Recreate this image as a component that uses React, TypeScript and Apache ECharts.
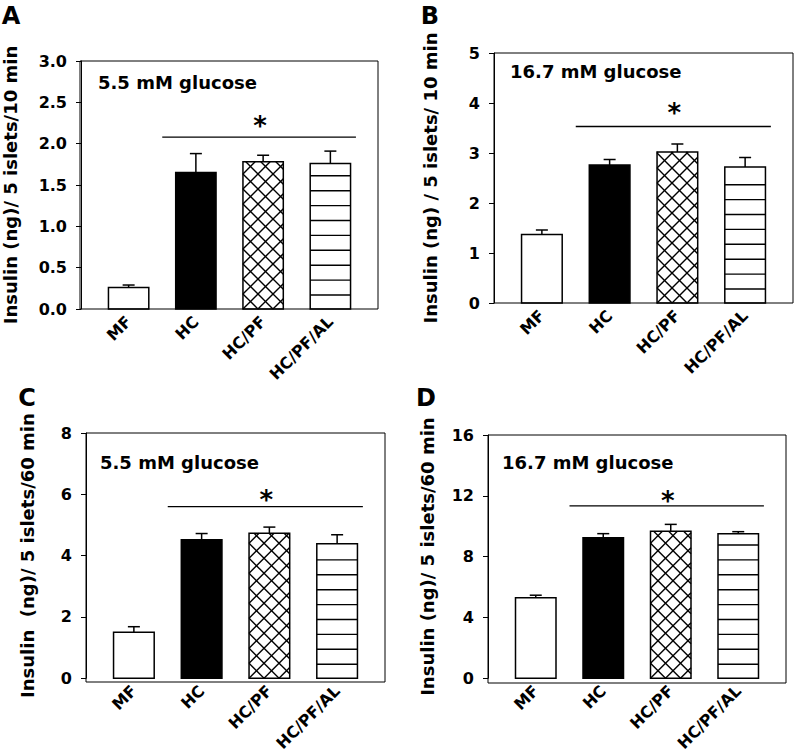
import React, { useEffect, useRef } from "react";
import * as echarts from "echarts";

// ---------- data ----------
const categories = ["MF", "HC", "HC/PF", "HC/PF/AL"];

const meanA = [0.26, 1.65, 1.78, 1.76];
const errA = [0.03, 0.23, 0.08, 0.15];
const meanB = [1.37, 2.76, 3.02, 2.72];
const errB = [0.09, 0.11, 0.16, 0.19];
const meanC = [1.5, 4.52, 4.73, 4.39];
const errC = [0.18, 0.2, 0.2, 0.29];
const meanD = [5.3, 9.24, 9.66, 9.51];
const errD = [0.16, 0.27, 0.46, 0.13];

const sigLevel = [2.08, 3.53, 5.6, 11.34];
const starLevel = [2.28, 3.9, 5.98, 11.98];

const yMaxes = [3, 5, 8, 16];
const yIntervals = [0.5, 1, 2, 4];
const yDecimals = [1, 0, 0, 0];

const panelLetters = ["A", "B", "C", "D"];
const panelTitles = ["5.5 mM glucose", "16.7 mM glucose", "5.5 mM glucose", "16.7 mM glucose"];
const yNames = [
  "Insulin (ng)/ 5 islets/10 min",
  "Insulin (ng) / 5 islets/ 10 min",
  "Insulin  (ng)/ 5 islets/60 min",
  "Insulin (ng)/ 5 islets/60 min",
];
const fills = ["white", "black", "cross", "hlines"];

// ---------- layout ----------
const W = 794;
const H = 754;
const FONT = "DejaVu Sans";
const INSET = 14;
// [left, top, right, bottom] of each plot box
const boxes = [
  [80, 61, 378, 309],
  [494, 53, 793, 303],
  [86, 433, 385, 682],
  [488, 435, 786, 683],
];
const nameGaps = [62, 55, 50, 52];
const letterPos = [
  [11, 16],
  [430, 16],
  [27, 398],
  [426, 398],
];
const titlePos = [
  [98, 82],
  [510, 71],
  [100, 462],
  [502, 462],
];

const means = [meanA, meanB, meanC, meanD];
const errs = [errA, errB, errC, errD];

function crossLines(x0: number, x1: number, y0: number, y1: number, step: number) {
  const out: any[] = [];
  const style = { stroke: "#000", lineWidth: 1.4 };
  // family y = x + c
  const c0 = y1 - x0;
  for (let k = -40; k <= 40; k++) {
    const c = c0 + k * step;
    const a = Math.max(x0, y0 - c);
    const b = Math.min(x1, y1 - c);
    if (b - a > 0.5) out.push({ type: "line", shape: { x1: a, y1: a + c, x2: b, y2: b + c }, style });
  }
  // family y = -x + c
  const d0 = x0 + y1;
  for (let k = -40; k <= 40; k++) {
    const c = d0 + k * step;
    const a = Math.max(x0, c - y1);
    const b = Math.min(x1, c - y0);
    if (b - a > 0.5) out.push({ type: "line", shape: { x1: a, y1: c - a, x2: b, y2: c - b }, style });
  }
  return out;
}

function renderBar(params: any, api: any) {
  const i = api.value(0);
  const v = api.value(1);
  const e = api.value(2);
  const band = api.size([1, 0])[0];
  const w = band * 0.6;
  const base = api.coord([i, 0]);
  const top = api.coord([i, v]);
  const errTop = api.coord([i, v + e]);
  const cx = base[0];
  const x0 = cx - w / 2;
  const x1 = cx + w / 2;
  const yB = base[1];
  const yT = top[1];
  const kind = fills[i];
  const children: any[] = [];
  // error bar (upper)
  children.push({ type: "line", shape: { x1: cx, y1: yT, x2: cx, y2: errTop[1] }, style: { stroke: "#000", lineWidth: 1.5 } });
  children.push({ type: "line", shape: { x1: cx - 6, y1: errTop[1], x2: cx + 6, y2: errTop[1] }, style: { stroke: "#000", lineWidth: 1.5 } });
  children.push({
    type: "rect",
    shape: { x: x0, y: yT, width: w, height: yB - yT },
    style: { fill: kind === "black" ? "#000" : "#fff", stroke: "none" },
  });
  if (kind === "cross") {
    children.push(...crossLines(x0, x1, yT, yB, 15));
  } else if (kind === "hlines") {
    for (let y = yB - 14; y > yT + 3; y -= 14.9) {
      children.push({ type: "line", shape: { x1: x0, y1: y, x2: x1, y2: y }, style: { stroke: "#000", lineWidth: 1.4 } });
    }
  }
  children.push({
    type: "rect",
    shape: { x: x0, y: yT, width: w, height: yB - yT },
    style: { fill: "none", stroke: "#000", lineWidth: 1.5 },
  });
  return { type: "group", children };
}

function renderSig(params: any, api: any) {
  const level = api.value(1);
  const star = api.value(2);
  const band = api.size([1, 0])[0];
  const a = api.coord([1, level]);
  const b = api.coord([3, level]);
  const s = api.coord([2, star]);
  return {
    type: "group",
    children: [
      { type: "line", shape: { x1: a[0] - band * 0.5, y1: a[1], x2: b[0] + band * 0.38, y2: a[1] }, style: { stroke: "#000", lineWidth: 1.3 } },
      {
        type: "text",
        x: s[0] - 3,
        y: s[1] + 5,
        style: { text: "*", fill: "#000", fontFamily: FONT, fontWeight: "bold", fontSize: 26, align: "center", verticalAlign: "middle" },
      },
    ],
  };
}

export default function App() {
  const ref = useRef<HTMLDivElement>(null);
  useEffect(() => {
    if (!ref.current) return;
    const chart = echarts.init(ref.current, undefined, { renderer: "svg" });
    const grid: any[] = [];
    const xAxis: any[] = [];
    const yAxis: any[] = [];
    const series: any[] = [];
    const graphic: any[] = [];
    boxes.forEach((bx, p) => {
      const [L, T, R, B] = bx;
      grid.push({ left: L + INSET, right: W - (R - INSET), top: T, bottom: H - B });
      xAxis.push({
        gridIndex: p,
        type: "category",
        data: categories,
        axisLine: { show: false },
        axisTick: { show: false },
        axisLabel: { rotate: 45, margin: 10, interval: 0, color: "#000", fontFamily: FONT, fontWeight: "bold", fontSize: 16 },
      });
      yAxis.push({
        gridIndex: p,
        type: "value",
        min: 0,
        max: yMaxes[p],
        interval: yIntervals[p],
        offset: INSET,
        axisLine: { show: true, lineStyle: { color: "#000", width: 1 } },
        axisTick: { show: true, inside: false, length: 5, lineStyle: { color: "#000", width: 1 } },
        splitLine: { show: false },
        axisLabel: {
          margin: 14,
          color: "#000",
          fontFamily: FONT,
          fontWeight: "bold",
          fontSize: 16,
          formatter: (v: number) => v.toFixed(yDecimals[p]),
        },
        name: yNames[p],
        nameLocation: "middle",
        nameGap: nameGaps[p],
        nameTextStyle: { color: "#000", fontFamily: FONT, fontWeight: "bold", fontSize: 18 },
      });
      series.push({
        type: "custom",
        xAxisIndex: p,
        yAxisIndex: p,
        renderItem: renderBar,
        encode: { x: 0, y: 1 },
        data: means[p].map((m, i) => [i, m, errs[p][i]]),
      });
      series.push({
        type: "custom",
        xAxisIndex: p,
        yAxisIndex: p,
        renderItem: renderSig,
        encode: { x: 0, y: 1 },
        data: [[1, sigLevel[p], starLevel[p]]],
      });
      graphic.push({
        type: "rect",
        shape: { x: L, y: T, width: R - L, height: B - T },
        style: { fill: "none", stroke: "#000", lineWidth: 1 },
        z: 10,
      });
      graphic.push({
        type: "text",
        x: letterPos[p][0],
        y: letterPos[p][1],
        style: { text: panelLetters[p], fill: "#000", fontFamily: FONT, fontWeight: "bold", fontSize: 24, align: "center", verticalAlign: "middle" },
      });
      graphic.push({
        type: "text",
        x: titlePos[p][0],
        y: titlePos[p][1],
        style: { text: panelTitles[p], fill: "#000", fontFamily: FONT, fontWeight: "bold", fontSize: 18, align: "left", verticalAlign: "middle" },
      });
    });
    chart.setOption({
      animation: false,
      backgroundColor: "#fff",
      grid,
      xAxis,
      yAxis,
      series,
      graphic,
    });
    return () => chart.dispose();
  }, []);
  return <div ref={ref} style={{ position: "absolute", left: 0, top: 0, width: W, height: H }} />;
}
